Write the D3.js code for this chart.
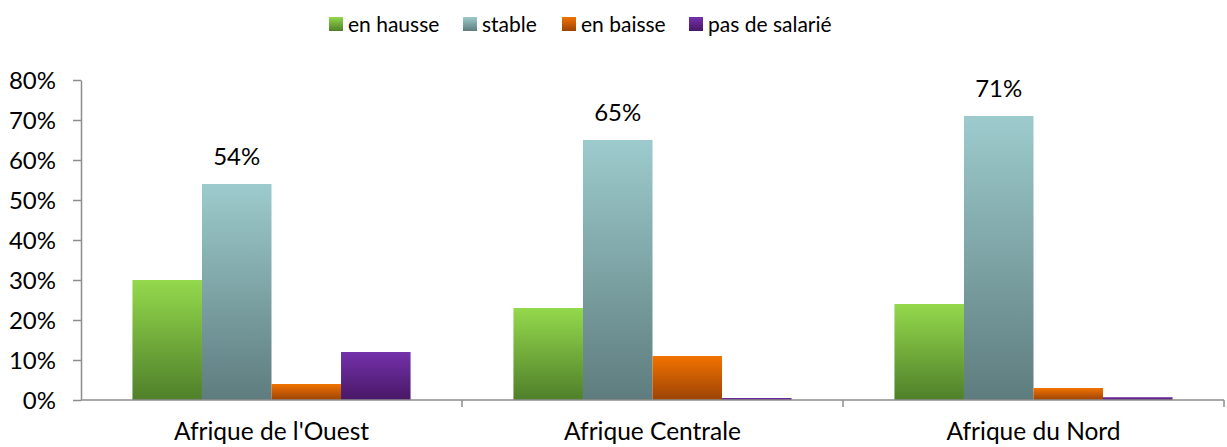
<!DOCTYPE html>
<html>
<head>
<meta charset="utf-8">
<script src="https://cdn.jsdelivr.net/npm/d3@7"></script>
<style>
  html, body { margin: 0; padding: 0; background: #fff; }
  svg { display: block; font-family: Lato, "Open Sans", sans-serif; }
</style>
</head>
<body>
<svg id="chart" width="1227" height="447"></svg>
<script>
// Regions shown along the x axis
const regions = ["Afrique de l'Ouest", "Afrique Centrale", "Afrique du Nord"];
// Series names (legend order)
const seriesNames = ["en hausse", "stable", "en baisse", "pas de salarié"];
// Share of answers per region, in percent
const enHausse = [30, 23, 24];
const stable = [54, 65, 71];
const enBaisse = [4, 11, 3];
const pasDeSalarie = [12, 0.5, 0.7];
const yTicks = [0, 10, 20, 30, 40, 50, 60, 70, 80];

const seriesValues = [enHausse, stable, enBaisse, pasDeSalarie];
// Gradient stops (top, bottom) for each series
const gradients = [
  ["#94d94c", "#4f7f2a"],
  ["#9dcbcd", "#5e7c7e"],
  ["#f27300", "#9c4306"],
  ["#7431ab", "#481866"]
];

const svg = d3.select("#chart");
const margin = { left: 81, right: 3, top: 80, bottom: 47 };
const W = 1227, H = 447;

const x = d3.scaleBand().domain(regions).range([margin.left, W - margin.right]);
const inner = d3.scaleBand().domain(seriesNames)
  .range([0, x.bandwidth()]).paddingOuter(0.74).paddingInner(0);
const y = d3.scaleLinear().domain([0, 80]).range([H - margin.bottom, margin.top]);

const defs = svg.append("defs");
gradients.forEach((g, i) => {
  const lg = defs.append("linearGradient")
    .attr("id", "grad" + i).attr("x1", 0).attr("y1", 0).attr("x2", 0).attr("y2", 1);
  lg.append("stop").attr("offset", "0%").attr("stop-color", g[0]);
  lg.append("stop").attr("offset", "100%").attr("stop-color", g[1]);
});

// Y axis
const yAxis = d3.axisLeft(y).tickValues(yTicks).tickFormat(d => d + "%").tickSize(8).tickSizeOuter(0);
const yg = svg.append("g").attr("transform", `translate(${margin.left},0)`).call(yAxis);
yg.select(".domain").attr("stroke", "#8c8c8c").attr("stroke-width", 1.5);
yg.selectAll(".tick line").attr("stroke", "#8c8c8c").attr("stroke-width", 1.5);
yg.selectAll(".tick text").attr("font-size", 24).attr("fill", "#000")
  .attr("font-family", "Lato, sans-serif").attr("x", -25).attr("dy", "0.36em");

// Bars
seriesNames.forEach((s, si) => {
  svg.append("g").selectAll("rect")
    .data(regions.map((r, ri) => ({ r, v: seriesValues[si][ri] })))
    .join("rect")
    .attr("x", d => x(d.r) + inner(s))
    .attr("width", inner.bandwidth())
    .attr("y", d => y(d.v))
    .attr("height", d => y(0) - y(d.v))
    .attr("fill", `url(#grad${si})`);
});

// X axis (drawn after bars so its line sits on top)
const xAxis = d3.axisBottom(x).tickSize(0);
const xg = svg.append("g").attr("transform", `translate(0,${y(0)})`).call(xAxis);
xg.select(".domain").attr("stroke", "#8c8c8c").attr("stroke-width", 1.5)
  .attr("d", `M${margin.left},0H${W - margin.right}`);
xg.selectAll(".tick text").attr("font-size", 24.5).attr("fill", "#000")
  .attr("font-family", "Lato, sans-serif").attr("dy", 0).attr("y", 40);
// Category separator ticks
const sepX = regions.map(r => x(r) + x.bandwidth());
svg.append("g").selectAll("line").data(sepX).join("line")
  .attr("x1", d => d).attr("x2", d => d)
  .attr("y1", y(0)).attr("y2", y(0) + 7)
  .attr("stroke", "#8c8c8c").attr("stroke-width", 1.5);

// Value labels on the "stable" series
svg.append("g").selectAll("text")
  .data(regions.map((r, ri) => ({ r, v: stable[ri] })))
  .join("text")
  .attr("x", d => x(d.r) + inner("stable") + inner.bandwidth() / 2)
  .attr("y", d => y(d.v) - 19)
  .attr("text-anchor", "middle")
  .attr("font-size", 24)
  .attr("fill", "#000")
  .text(d => d.v + "%");

// Legend
const legendX = [329, 463, 562, 689];
const lg = svg.append("g");
seriesNames.forEach((s, i) => {
  lg.append("rect").attr("x", legendX[i]).attr("y", 17).attr("width", 14).attr("height", 14)
    .attr("fill", `url(#grad${i})`);
  lg.append("text").attr("x", legendX[i] + 19).attr("y", 32)
    .attr("font-size", 21).attr("fill", "#000").text(s);
});
</script>
</body>
</html>
